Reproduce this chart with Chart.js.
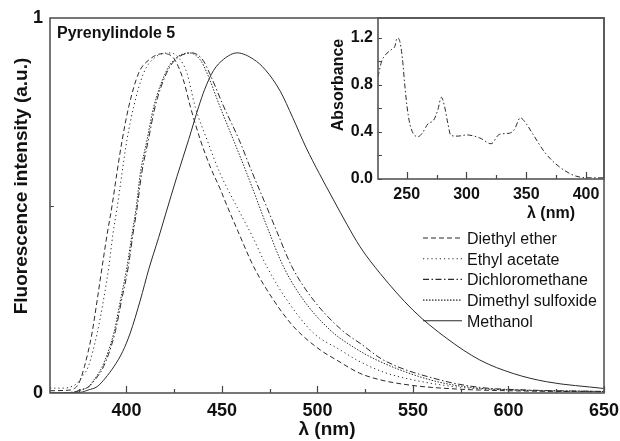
<!DOCTYPE html>
<html lang="en">
  <head>
    <meta charset="utf-8" />
    <title>Pyrenylindole 5 - fluorescence and absorbance</title>
    <style>
      html, body { margin: 0; padding: 0; background: #fff; }
      .wrap { position: relative; width: 620px; height: 441px; }
      #main { position: absolute; left: 0; top: 0; }
      .inset { position: absolute; left: 330px; top: 0; width: 290px; height: 230px; }
    </style>
  </head>
  <body>
    <div class="wrap">
      <canvas id="main" width="620" height="441"></canvas>
      <div class="inset"><canvas id="inset" width="290" height="230"></canvas></div>
    </div>
    <script src="https://cdn.jsdelivr.net/npm/chart.js/dist/chart.umd.min.js"></script>
    <script>
      // emission spectra (wavelength nm / normalised intensity)
      const etherNm = [360, 368, 372, 375, 378, 382, 384.7, 387.3, 390, 392.5, 395, 397.8, 401.2, 406.4, 411.7, 419, 424.7, 429.8, 433.5, 438.7, 443.9, 449, 452.6, 458.5, 466.6, 477, 487.5, 501.4, 510, 522, 533, 550, 575, 600, 650];
      const etherI = [0.006, 0.007, 0.01, 0.025, 0.07, 0.16, 0.248, 0.337, 0.426, 0.5, 0.586, 0.675, 0.763, 0.853, 0.888, 0.905, 0.893, 0.835, 0.763, 0.675, 0.603, 0.545, 0.5, 0.43, 0.337, 0.248, 0.177, 0.115, 0.088, 0.053, 0.035, 0.02, 0.01, 0.006, 0.003];

      const acetNm = [360, 366, 370, 374, 377, 380, 384.7, 388, 390.8, 393, 395, 400.3, 403.8, 409, 415, 423, 428, 431.7, 436, 442.2, 449, 458, 465.7, 473.5, 484, 497.9, 511.9, 520.6, 535, 550, 575, 600, 650];
      const acetI = [0.013, 0.013, 0.015, 0.025, 0.045, 0.07, 0.16, 0.248, 0.337, 0.426, 0.49, 0.675, 0.763, 0.853, 0.895, 0.907, 0.89, 0.853, 0.763, 0.675, 0.586, 0.495, 0.42, 0.337, 0.248, 0.16, 0.115, 0.088, 0.055, 0.035, 0.015, 0.008, 0.004];

      const dcmNm = [360, 372, 376, 380.3, 383.5, 388, 394, 397.5, 401, 403.5, 405.5, 408, 411.5, 415, 421, 425.5, 434.3, 440, 443.5, 451, 459, 466, 472.7, 478.8, 486.6, 497.9, 512.7, 523, 534.5, 564, 585, 610, 650];
      const dcmI = [0, 0.002, 0.008, 0.017, 0.035, 0.07, 0.16, 0.248, 0.337, 0.426, 0.49, 0.586, 0.675, 0.763, 0.853, 0.888, 0.907, 0.888, 0.853, 0.763, 0.675, 0.586, 0.505, 0.43, 0.337, 0.248, 0.168, 0.13, 0.088, 0.035, 0.015, 0.008, 0.004];

      const dmsoNm = [360, 372, 376, 380.3, 383, 387.3, 393.4, 396.9, 400.3, 403, 405, 407.3, 410.8, 414.3, 420.4, 424.8, 433, 438.7, 442.2, 449, 456, 463, 468.3, 473.5, 482.2, 492.7, 506.6, 518, 531, 559, 580, 605, 650];
      const dmsoI = [0, 0.002, 0.008, 0.017, 0.035, 0.07, 0.16, 0.248, 0.337, 0.426, 0.49, 0.586, 0.675, 0.763, 0.853, 0.888, 0.907, 0.888, 0.853, 0.763, 0.675, 0.586, 0.515, 0.445, 0.337, 0.248, 0.168, 0.125, 0.088, 0.035, 0.015, 0.008, 0.004];

      const meohNm = [360, 376, 380, 384.7, 389, 393.4, 398, 402, 407.3, 411.7, 416.9, 420.4, 426.5, 432.6, 437.8, 441, 445.6, 450.9, 458, 466.5, 472.7, 480.5, 487, 494, 501, 508.4, 515.4, 522.3, 532.8, 550, 567.6, 585, 602.5, 620, 650];
      const meohI = [0, 0.002, 0.008, 0.017, 0.04, 0.07, 0.11, 0.16, 0.248, 0.33, 0.415, 0.475, 0.578, 0.676, 0.763, 0.81, 0.86, 0.89, 0.907, 0.89, 0.862, 0.805, 0.735, 0.655, 0.585, 0.515, 0.45, 0.39, 0.319, 0.221, 0.146, 0.088, 0.052, 0.03, 0.012];

      // inset: absorbance spectrum
      const absNm = [226, 229, 231.7, 237, 240, 242, 244, 246.4, 248.3, 250.3, 252.5, 255.3, 259.4, 263, 267.8, 272.5, 276, 279, 281.7, 284.4, 287, 293, 300, 311, 320.6, 327.5, 336, 340, 345, 350, 355, 366, 377.5, 391.4, 405, 415];
      const absVal = [0.87, 1.0, 1.05, 1.1, 1.126, 1.2, 1.18, 1.027, 0.81, 0.615, 0.474, 0.39, 0.36, 0.39, 0.47, 0.5, 0.587, 0.695, 0.615, 0.474, 0.37, 0.365, 0.375, 0.35, 0.3, 0.38, 0.39, 0.42, 0.52, 0.47, 0.39, 0.22, 0.105, 0.025, 0.01, 0.01];

      const solvents = ["Diethyl ether", "Ethyl acetate", "Dichloromethane", "Dimethyl sulfoxide", "Methanol"];

      // ticks
      const xMajor = [400, 450, 500, 550, 600, 650];
      const xMinor = [375, 425, 475, 525, 575, 625];
      const yTicks = [0, 0.5, 1];
      const yLabels = ["0", "", "1"];
      const insetXMajor = [250, 300, 350, 400];
      const insetXMinor = [275, 325, 375];
      const insetYMajor = [0, 0.4, 0.8, 1.2];
      const insetYMinor = [0.2, 0.6, 1.0];

      Chart.defaults.font.family = '"Liberation Sans", Arial, sans-serif';
      Chart.defaults.color = "#111";

      const ink = "#2a2a2a";
      const pts = (xs, ys) => xs.map((x, i) => ({ x: x, y: ys[i] }));
      const line = (label, xs, ys, dash) => ({
        label: label,
        data: pts(xs, ys),
        borderColor: ink,
        borderWidth: 1,
        borderDash: dash,
        pointRadius: 0,
        cubicInterpolationMode: "monotone",
        fill: false,
      });
      // keep the plot frames at fixed places
      const noPadX = (h) => (s) => { s.height = h; s.paddingLeft = 0; s.paddingRight = 0; };
      const noPadY = (w) => (s) => { s.width = w; s.paddingTop = 0; s.paddingBottom = 0; };

      // frame + inward tick marks
      const innerTicks = {
        id: "innerTicks",
        afterDatasetsDraw(chart, args, o) {
          const { ctx, chartArea: a, scales } = chart;
          ctx.save();
          ctx.strokeStyle = "#444";
          ctx.lineWidth = 1.2;
          ctx.beginPath();
          const onX = (list, len) =>
            list.forEach((v) => {
              const p = Math.round(scales.x.getPixelForValue(v)) + 0.5;
              ctx.moveTo(p, a.bottom);
              ctx.lineTo(p, a.bottom - len);
            });
          const onY = (list, len) =>
            list.forEach((v) => {
              const p = Math.round(scales.y.getPixelForValue(v)) + 0.5;
              ctx.moveTo(a.left, p);
              ctx.lineTo(a.left + len, p);
            });
          onX(o.xMajor, o.major);
          onX(o.xMinor, o.minor);
          onY(o.yMajor, o.yLen);
          onY(o.yMinor, o.yLen);
          ctx.stroke();
          ctx.strokeStyle = "#555";
          ctx.lineWidth = 1.6;
          ctx.strokeRect(a.left, a.top, a.right - a.left, a.bottom - a.top);
          ctx.restore();
        },
      };

      // legend with line samples, panel label and y title
      const lineLegend = {
        id: "lineLegend",
        afterDraw(chart, args, o) {
          const ctx = chart.ctx;
          const a = chart.chartArea;
          ctx.save();
          ctx.font = o.font;
          ctx.fillStyle = "#111";
          ctx.textBaseline = "alphabetic";
          chart.data.datasets.forEach((ds, i) => {
            const base = a.top + o.top + i * o.row;
            const x0 = a.right - o.fromRight;
            ctx.strokeStyle = ds.borderColor;
            ctx.lineWidth = 1.1;
            ctx.setLineDash(ds.borderDash || []);
            ctx.beginPath();
            ctx.moveTo(x0, base - 6);
            ctx.lineTo(x0 + o.sample, base - 6);
            ctx.stroke();
            ctx.setLineDash([]);
            ctx.fillText(ds.label, x0 + o.sample + 5, base);
          });
          ctx.font = o.titleFont;
          ctx.fillText(o.title, a.left + 7, a.top + 20);
          ctx.font = o.yTitleFont;
          ctx.textAlign = "center";
          ctx.textBaseline = "middle";
          ctx.translate(22, a.top + 168);
          ctx.rotate(-Math.PI / 2);
          ctx.fillText(o.yTitle, 0, 0);
          ctx.restore();
        },
      };

      // inset axis titles
      const insetTitles = {
        id: "insetTitles",
        afterDraw(chart, args, o) {
          const ctx = chart.ctx;
          const a = chart.chartArea;
          ctx.save();
          ctx.fillStyle = "#111";
          ctx.font = o.font;
          ctx.textAlign = "center";
          ctx.textBaseline = "middle";
          ctx.fillText(o.xTitle, a.right - 53, a.bottom + 35);
          ctx.translate(9, a.top + 67);
          ctx.rotate(-Math.PI / 2);
          ctx.fillText(o.yTitle, 0, 0);
          ctx.restore();
        },
      };

      new Chart(document.getElementById("main"), {
        type: "line",
        data: {
          datasets: [
            line(solvents[0], etherNm, etherI, [5, 3]),
            line(solvents[1], acetNm, acetI, [1.2, 3]),
            line(solvents[2], dcmNm, dcmI, [6, 2.5, 1.5, 2.5]),
            line(solvents[3], dmsoNm, dmsoI, [1.5, 1.5]),
            line(solvents[4], meohNm, meohI, []),
          ],
        },
        options: {
          responsive: false,
          animation: false,
          layout: { padding: { top: 18, right: 16, left: 0, bottom: 0 } },
          plugins: {
            legend: { display: false },
            tooltip: { enabled: false },
            innerTicks: { xMajor: xMajor, xMinor: xMinor, yMajor: [], yMinor: [0.5], major: 7, minor: 4, yLen: 4 },
            lineLegend: {
              font: '16px "Liberation Sans", Arial, sans-serif',
              titleFont: 'bold 16px "Liberation Sans", Arial, sans-serif',
              yTitleFont: 'bold 19px "Liberation Sans", Arial, sans-serif',
              title: "Pyrenylindole 5",
              yTitle: "Fluorescence intensity (a.u.)",
              top: 226, row: 20.7, fromRight: 181, sample: 39,
            },
          },
          scales: {
            x: {
              type: "linear",
              min: 360,
              max: 650,
              afterBuildTicks: (s) => { s.ticks = xMajor.map((v) => ({ value: v })); },
              afterFit: noPadX(48),
              grid: { display: false, drawTicks: false },
              border: { display: false },
              ticks: { font: { size: 18, weight: "bold" }, padding: 7, maxRotation: 0 },
              title: { display: true, text: "λ (nm)", font: { size: 19, weight: "bold" }, padding: { top: 0, bottom: 0 } },
            },
            y: {
              min: 0,
              max: 1,
              afterBuildTicks: (s) => { s.ticks = yTicks.map((v) => ({ value: v })); },
              afterFit: noPadY(50),
              grid: { display: false, drawTicks: false },
              border: { display: false },
              ticks: { font: { size: 18, weight: "bold" }, padding: 7, callback: (v, i) => yLabels[i] },
            },
          },
        },
        plugins: [innerTicks, lineLegend],
      });

      new Chart(document.getElementById("inset"), {
        type: "line",
        data: {
          datasets: [line("Absorbance", absNm, absVal, [5, 2.5, 1.5, 2.5])],
        },
        options: {
          responsive: false,
          animation: false,
          layout: { padding: { top: 18, right: 16, left: 0, bottom: 0 } },
          plugins: {
            legend: { display: false },
            tooltip: { enabled: false },
            innerTicks: { xMajor: insetXMajor, xMinor: insetXMinor, yMajor: insetYMajor, yMinor: insetYMinor, major: 7, minor: 4, yLen: 4 },
            insetTitles: { font: 'bold 16px "Liberation Sans", Arial, sans-serif', xTitle: "λ (nm)", yTitle: "Absorbance" },
          },
          scales: {
            x: {
              type: "linear",
              min: 226,
              max: 415,
              afterBuildTicks: (s) => { s.ticks = insetXMajor.map((v) => ({ value: v })); },
              afterFit: noPadX(51),
              grid: { display: false, drawTicks: false },
              border: { display: false },
              ticks: { font: { size: 16, weight: "bold" }, padding: 6, maxRotation: 0 },
            },
            y: {
              min: 0,
              max: 1.37,
              afterBuildTicks: (s) => { s.ticks = insetYMajor.map((v) => ({ value: v })); },
              afterFit: noPadY(48),
              grid: { display: false, drawTicks: false },
              border: { display: false },
              ticks: { font: { size: 16, weight: "bold" }, padding: 5, callback: (v) => v.toFixed(1) },
            },
          },
        },
        plugins: [innerTicks, insetTitles],
      });
    </script>
  </body>
</html>
